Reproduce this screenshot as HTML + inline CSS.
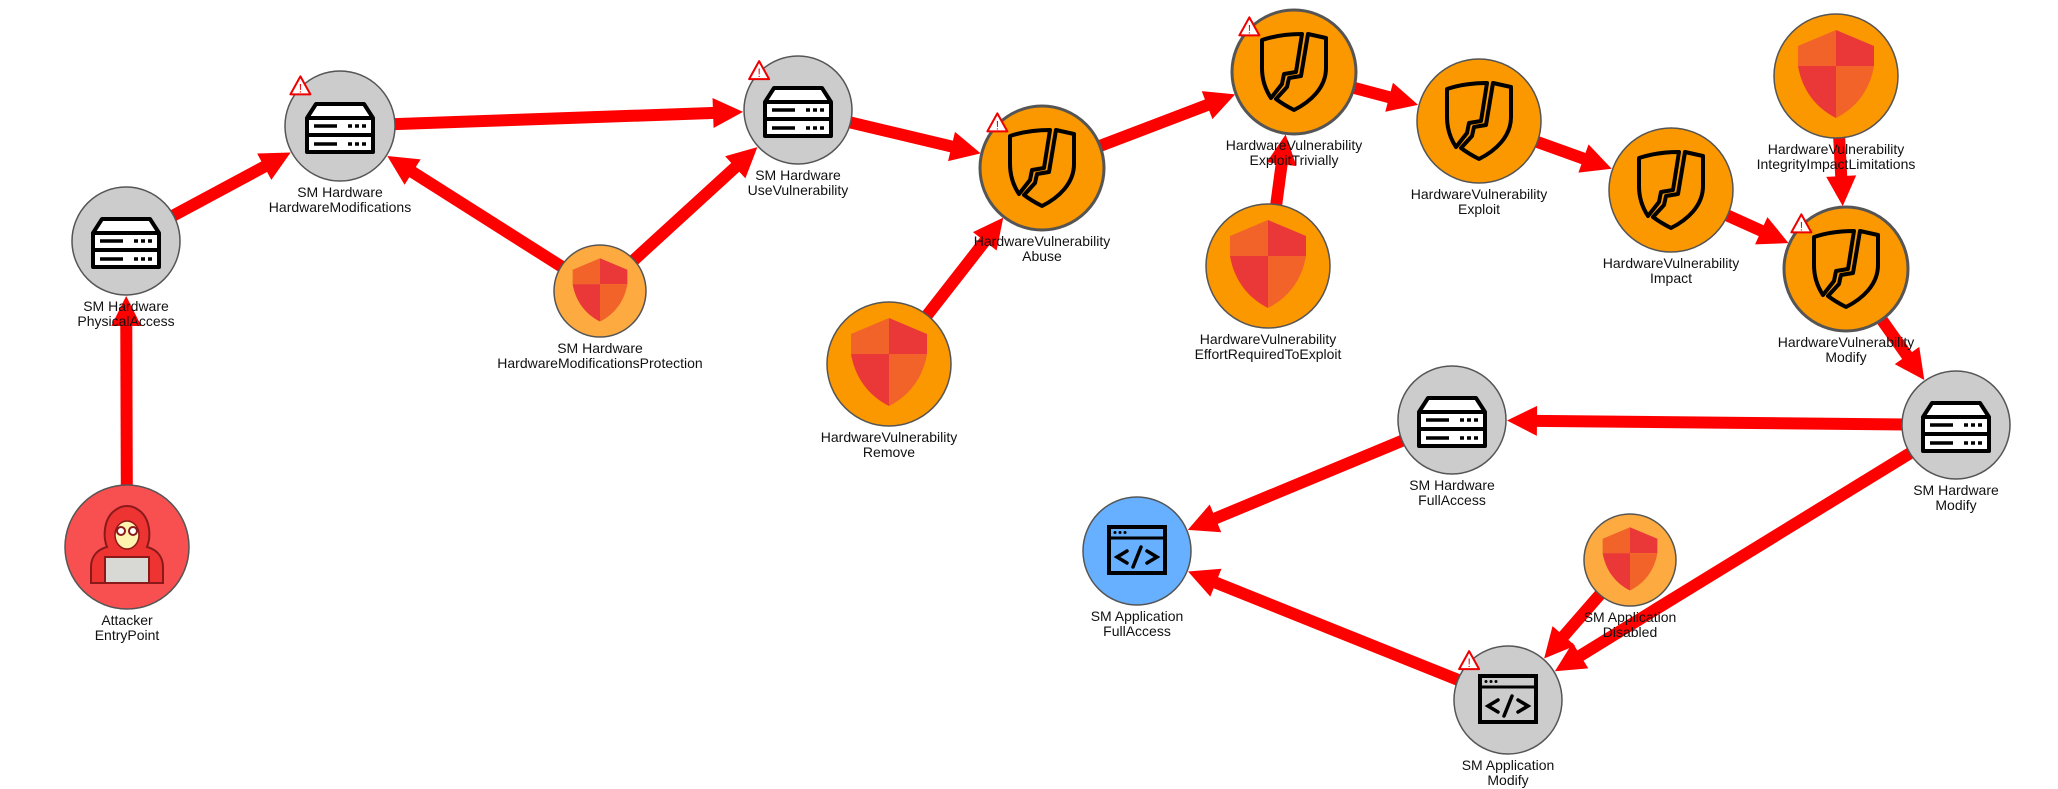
<!DOCTYPE html>
<html><head><meta charset="utf-8">
<style>
html,body{margin:0;padding:0;background:#fff;}
svg{display:block;}
text{font-family:"Liberation Sans",Arial,sans-serif;font-size:14px;fill:#111;}
</style></head>
<body>
<svg id="s" width="2058" height="789" viewBox="0 0 2058 789" xmlns="http://www.w3.org/2000/svg">
<defs>
<g id="server">
  <path d="M-24,-22 L24,-22 L33,-8 L33,26 L-33,26 L-33,-8 Z" fill="#fff" stroke="#000" stroke-width="4" stroke-linejoin="round"/>
  <line x1="-33" y1="-8" x2="33" y2="-8" stroke="#000" stroke-width="4"/>
  <line x1="-33" y1="9" x2="33" y2="9" stroke="#000" stroke-width="4"/>
  <line x1="-26" y1="0" x2="-3" y2="0" stroke="#000" stroke-width="3.5"/>
  <line x1="8" y1="0" x2="28" y2="0" stroke="#000" stroke-width="3.5" stroke-dasharray="4,3"/>
  <line x1="-26" y1="18" x2="-3" y2="18" stroke="#000" stroke-width="3.5"/>
  <line x1="8" y1="18" x2="28" y2="18" stroke="#000" stroke-width="3.5" stroke-dasharray="4,3"/>
</g>
<g id="crack" fill="none" stroke="#000" stroke-width="4" stroke-linejoin="round">
  <path d="M8,-34 C-6,-34 -20,-32 -32,-28 L-32,0 C-32,14 -27,24 -23,30 L-12,16 L-10,6 L2,4 Z"/>
  <path d="M14,-34 L32,-30 L32,0 C32,20 16,34 0,42 C-8,38 -14,34 -18,31 L-7,19 L-5,10 L7,8 Z"/>
</g>
<g id="shield">
  <path d="M0,-40 L-38,-24 L-38,-4 L0,-4 Z" fill="#f26329"/>
  <path d="M0,-40 L38,-24 L38,-4 L0,-4 Z" fill="#ea3838"/>
  <path d="M-38,-4 L0,-4 L0,48 C-20,38 -34,20 -38,-4 Z" fill="#ea3838"/>
  <path d="M38,-4 L0,-4 L0,48 C20,38 34,20 38,-4 Z" fill="#f26329"/>
</g>
<g id="code">
  <rect x="-28" y="-24" width="56" height="46" fill="none" stroke="#000" stroke-width="4"/>
  <line x1="-28" y1="-13" x2="28" y2="-13" stroke="#000" stroke-width="3"/>
  <circle cx="-22" cy="-18.5" r="1.5"/><circle cx="-17" cy="-18.5" r="1.5"/><circle cx="-12" cy="-18.5" r="1.5"/>
  <path d="M-10,0 L-20,6 L-10,12 M10,0 L20,6 L10,12 M4,-4 L-4,16" fill="none" stroke="#000" stroke-width="3.5" stroke-linecap="round"/>
</g>
<g id="warn">
  <path d="M0,-10 L10,8 L-10,8 Z" fill="#fff" stroke="#e00" stroke-width="2" stroke-linejoin="round"/>
  <text x="0" y="6" text-anchor="middle" style="font-size:12px;fill:#e00">!</text>
</g>
</defs>
<g id="edges"></g>
<g id="nodes"></g>
</svg>
<script>
var N={
 att:[127,547,62,'#f85050',1.5,'hacker',['Attacker','EntryPoint'],0],
 pa:[126,241,54,'#cccccc',1.5,'server',['SM Hardware','PhysicalAccess'],0],
 hm:[340,126,55,'#cccccc',1.5,'server',['SM Hardware','HardwareModifications'],1],
 hmp:[600,291,46,'#fdab40',1.5,'shieldS',['SM Hardware','HardwareModificationsProtection'],0],
 uv:[798,110,54,'#cccccc',1.5,'server',['SM Hardware','UseVulnerability'],1],
 ab:[1042,168,62,'#fb9800',3,'crack',['HardwareVulnerability','Abuse'],1],
 rm:[889,364,62,'#fb9800',1.5,'shield',['HardwareVulnerability','Remove'],0],
 et:[1294,72,62,'#fb9800',3,'crack',['HardwareVulnerability','ExploitTrivially'],1],
 ef:[1268,266,62,'#fb9800',1.5,'shield',['HardwareVulnerability','EffortRequiredToExploit'],0],
 ex:[1479,121,62,'#fb9800',1.5,'crack',['HardwareVulnerability','Exploit'],0],
 im:[1671,190,62,'#fb9800',1.5,'crack',['HardwareVulnerability','Impact'],0],
 ii:[1836,76,62,'#fb9800',1.5,'shield',['HardwareVulnerability','IntegrityImpactLimitations'],0],
 vm:[1846,269,62,'#fb9800',3,'crack',['HardwareVulnerability','Modify'],1],
 hwm:[1956,425,54,'#cccccc',1.5,'server',['SM Hardware','Modify'],0],
 hfa:[1452,420,54,'#cccccc',1.5,'server',['SM Hardware','FullAccess'],0],
 afa:[1137,551,54,'#66b0ff',1.5,'code',['SM Application','FullAccess'],0],
 ad:[1630,560,46,'#fdab40',1.5,'shieldS',['SM Application','Disabled'],0],
 amo:[1508,700,54,'#cccccc',1.5,'code',['SM Application','Modify'],1]
};
var E=[['att','pa'],['pa','hm'],['hmp','hm'],['hmp','uv'],['hm','uv'],['uv','ab'],['rm','ab'],['ab','et'],['ef','et'],['et','ex'],['ex','im'],['im','vm'],['ii','vm'],['vm','hwm'],['hwm','hfa'],['hwm','amo'],['hfa','afa'],['amo','afa'],['ad','amo']];
var eg='',ng='';
E.forEach(function(e){
 var a=N[e[0]],b=N[e[1]];var dx=b[0]-a[0],dy=b[1]-a[1],L=Math.hypot(dx,dy),ux=dx/L,uy=dy/L;
 var sx=a[0]+ux*(a[2]-4),sy=a[1]+uy*(a[2]-4);
 var tx=b[0]-ux*(b[2]+1),ty=b[1]-uy*(b[2]+1);
 var hl=30,hw=15,bx=tx-ux*hl,by=ty-uy*hl,px=-uy,py=ux;
 eg+='<line x1="'+sx+'" y1="'+sy+'" x2="'+(bx+ux*2)+'" y2="'+(by+uy*2)+'" stroke="#ff0000" stroke-width="12"/>';
 eg+='<polygon fill="#ff0000" points="'+tx+','+ty+' '+(bx+px*hw)+','+(by+py*hw)+' '+(bx-px*hw)+','+(by-py*hw)+'"/>';
});
for(var k in N){var n=N[k],x=n[0],y=n[1],r=n[2];
 ng+='<circle cx="'+x+'" cy="'+y+'" r="'+r+'" fill="'+n[3]+'" stroke="#555" stroke-width="'+n[4]+'"/>';
 var t=n[5];
 if(t=='server')ng+='<use href="#server" x="'+x+'" y="'+y+'"/>';
 else if(t=='crack')ng+='<use href="#crack" x="'+x+'" y="'+(y-4)+'"/>';
 else if(t=='shield')ng+='<use href="#shield" x="'+x+'" y="'+(y-6)+'"/>';
 else if(t=='shieldS')ng+='<g transform="translate('+x+','+(y-4)+') scale(0.72)"><use href="#shield"/></g>';
 else if(t=='code')ng+='<use href="#code" x="'+x+'" y="'+y+'"/>';
 else if(t=='hacker'){
  ng+='<g transform="translate('+x+','+y+')">'+
  '<path d="M-36,36 L-36,20 C-36,8 -28,2 -20,0 C-24,-10 -24,-30 -10,-38 C-4,-42 4,-42 10,-38 C24,-30 24,-10 20,0 C28,2 36,8 36,20 L36,36 Z" fill="#e33" stroke="#8a1a1a" stroke-width="2"/>'+
  '<ellipse cx="0" cy="-12" rx="12" ry="14" fill="#fff3b0" stroke="#8a1a1a" stroke-width="1.5"/>'+
  '<circle cx="-6" cy="-16" r="4" fill="#fff" stroke="#8a1a1a" stroke-width="2"/><circle cx="6" cy="-16" r="4" fill="#fff" stroke="#8a1a1a" stroke-width="2"/>'+
  '<rect x="-22" y="10" width="44" height="26" fill="#d8d8d4" stroke="#8a1a1a" stroke-width="2"/></g>';
 }
 if(n[7])ng+='<use href="#warn" x="'+(x-r*0.72)+'" y="'+(y-r*0.72)+'"/>';
 var ly=y+r+16;
 ng+='<text x="'+x+'" y="'+ly+'" text-anchor="middle">'+n[6][0]+'</text><text x="'+x+'" y="'+(ly+15)+'" text-anchor="middle">'+n[6][1]+'</text>';
}
document.getElementById('edges').innerHTML=eg;
document.getElementById('nodes').innerHTML=ng;
</script>
</body></html>
